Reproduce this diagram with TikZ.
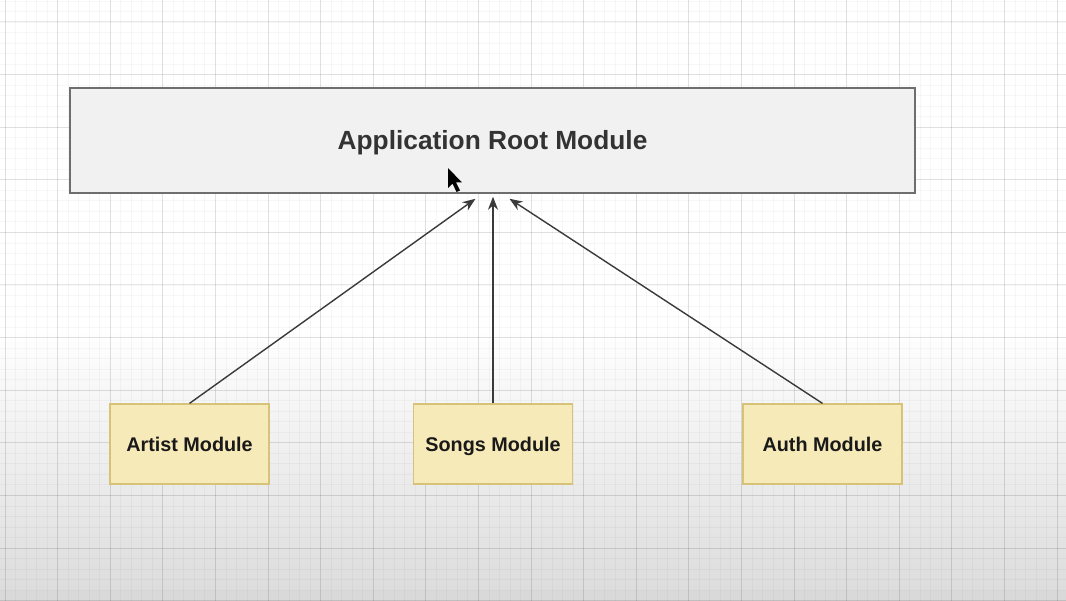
\documentclass[tikz,border=0pt]{standalone}
\usepackage{fontspec}
\setmainfont{Liberation Sans}
\usetikzlibrary{arrows.meta,calc}
\definecolor{rootfill}{HTML}{F1F1F1}
\definecolor{rootline}{HTML}{6E6E6E}
\definecolor{modfill}{HTML}{F7EAB9}
\definecolor{modline}{HTML}{D7C27A}
\definecolor{arrowline}{HTML}{3A3A3A}
\tikzset{
  rootbox/.style={draw=rootline, line width=1.5pt, fill=rootfill, inner sep=0pt,
    minimum width=845pt, minimum height=105pt, text height=18.8pt, text depth=0pt,
    font=\fontsize{26.3}{31}\selectfont\bfseries, text=black!80},
  modbox/.style={draw=modline, line width=1.2pt, fill=modfill, inner sep=0pt,
    minimum width=159pt, minimum height=80pt, text height=14.2pt, text depth=0pt,
    font=\fontsize{19.8}{24}\selectfont\bfseries, text=black!90},
  uses/.style={draw=arrowline, line width=1.4pt, -{Stealth[length=13pt,width=10pt]}}
}
\begin{document}
\begin{tikzpicture}[x=1pt,y=-1pt]
\useasboundingbox (0,0) rectangle (1066,601);
\fill[white] (0,0) rectangle (1066,601);
\shade[top color=white, bottom color=black!14] (0,330) rectangle (1066,601);
\fill[black!15] (0,591) rectangle (1066,601);
% grid
\foreach \i in {0,...,101}
  \draw[black, opacity=0.03, line width=0.8pt] ({5+10.52*\i},0) -- ({5+10.52*\i},601);
\foreach \j in {0,...,57}
  \draw[black, opacity=0.03, line width=0.8pt] (0,{0.96+10.52*\j}) -- (1066,{0.96+10.52*\j});
\foreach \i in {0,...,20}
  \draw[black, opacity=0.09, line width=1pt] ({5+52.6*\i},0) -- ({5+52.6*\i},601);
\foreach \j in {0,...,11}
  \draw[black, opacity=0.09, line width=1pt] (0,{22+52.6*\j}) -- (1066,{22+52.6*\j});
% boxes
\node[rootbox] (root) at (492.5,140.5) {Application Root Module};
\node[modbox] (artist) at (189.5,444) {Artist Module};
\node[modbox] (songs) at (493,444) {Songs Module};
\node[modbox] (auth) at (822.5,444) {Auth Module};
\coordinate (in1) at ($(root.south)+(-17,5)$);
\coordinate (in2) at ($(root.south)+(0.5,3)$);
\coordinate (in3) at ($(root.south)+(17,5)$);
\draw[uses] (artist.north) -- (in1);
\draw[uses] (songs.north) -- (songs.north |- in2);
\draw[uses] (auth.north) -- (in3);
% mouse pointer
\fill[black] (448,168) -- (448,188) -- (452.5,183.5) -- (456.5,192) -- (460,190.5) -- (456,182.5) -- (462,182.5) -- cycle;
\end{tikzpicture}
\end{document}
